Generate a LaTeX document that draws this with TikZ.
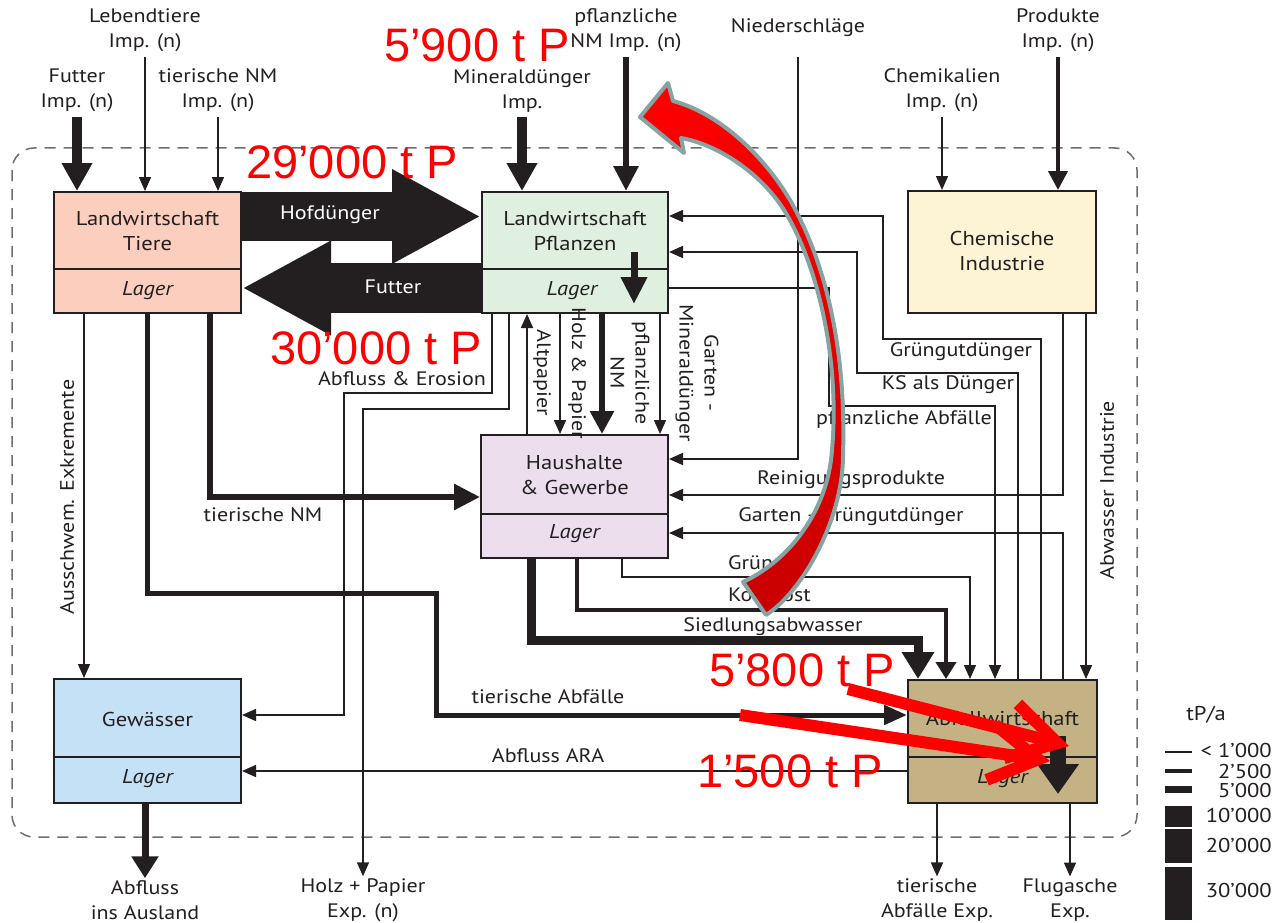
\documentclass[tikz,border=0pt]{standalone}
\usepackage{fontspec}
\setmainfont[FakeStretch=1.13]{PT Sans}
\newfontfamily\redfont{Liberation Sans}
\usetikzlibrary{arrows.meta}
\definecolor{ink}{RGB}{35,31,32}
\definecolor{ltfill}{RGB}{251,206,190}
\definecolor{lpfill}{RGB}{223,240,224}
\definecolor{cifill}{RGB}{253,244,214}
\definecolor{hgfill}{RGB}{237,222,238}
\definecolor{gwfill}{RGB}{196,225,245}
\definecolor{awfill}{RGB}{196,178,133}
\definecolor{framegray}{RGB}{110,110,110}
\definecolor{hilite}{RGB}{255,0,0}
\definecolor{hidark}{RGB}{200,0,0}
\definecolor{rim}{RGB}{135,163,163}

\tikzset{
  sector/.style={draw=ink, line width=2pt, inner sep=0pt},
  title/.style={font=\fontsize{20}{25}\selectfont, align=center, inner sep=1pt, text=ink},
  store/.style={font=\fontsize{20}{25}\selectfont\itshape, inner sep=1pt, text=ink},
  lab/.style={font=\fontsize{19.5}{25}\selectfont, align=center, inner sep=2pt, text=ink},
  l1/.style={draw=ink, line width=1.5pt},
  f1/.style={draw=ink, line width=1.5pt, -{Triangle[length=14pt,width=12pt]}},
  f2/.style={draw=ink, line width=4pt, -{Triangle[length=19pt,width=19pt]}},
  f3/.style={draw=ink, line width=6pt, -{Triangle[length=25pt,width=24pt]}},
  f4/.style={draw=ink, line width=9pt, -{Triangle[length=27pt,width=31pt]}},
  fimp/.style={draw=ink, line width=9.5pt, -{Triangle[length=28pt,width=29pt]}},
  big/.style={draw=ink, line width=49pt, -{Triangle[length=89pt,width=88pt]}},
  redtext/.style={font=\redfont\fontsize{47}{50}\selectfont, text=hilite, inner sep=0pt},
  redarrow/.style={draw=hilite, line width=12pt, -{Straight Barb[length=48pt,width=56pt]}},
}

\begin{document}
\begin{tikzpicture}[x=1pt,y=-1pt]
\useasboundingbox (0,0) rectangle (1274,923);
\fill[white] (0,0) rectangle (1274,923);

% system boundary
\draw[framegray, line width=1.5pt, dash pattern=on 11pt off 8pt, rounded corners=22pt]
  (12,148) rectangle (1137,837);

% sectors
\node[sector, fill=ltfill, minimum width=187pt, minimum height=121pt] (lt) at (147.5,252.5) {};
\node[sector, fill=lpfill, minimum width=186pt, minimum height=121pt] (lp) at (575,252.5) {};
\node[sector, fill=cifill, minimum width=188pt, minimum height=122pt] (ci) at (1002,252) {};
\node[sector, fill=hgfill, minimum width=187pt, minimum height=123pt] (hg) at (574.5,496.5) {};
\node[sector, fill=gwfill, minimum width=187pt, minimum height=124pt] (gw) at (147.5,741) {};
\node[sector, fill=awfill, minimum width=189pt, minimum height=123pt] (aw) at (1002.5,741.5) {};

% storage dividers
\draw[ink, line width=2pt] (lt.west |- 0,269) -- (lt.east |- 0,269);
\draw[ink, line width=2pt] (lp.west |- 0,269) -- (lp.east |- 0,269);
\draw[ink, line width=2pt] (hg.west |- 0,514) -- (hg.east |- 0,514);
\draw[ink, line width=2pt] (gw.west |- 0,757) -- (gw.east |- 0,757);
\draw[ink, line width=2pt] (aw.west |- 0,757) -- (aw.east |- 0,757);

% sector titles
\node[title] (ltT) at (147.5,231) {Landwirtschaft\\Tiere};
\node[store] (ltS) at (147.5,291) {Lager};
\node[title] (lpT) at (575,231) {Landwirtschaft\\Pflanzen};
\node[store] (lpS) at (572,291) {Lager};
\node[title] (ciT) at (1002,251) {Chemische\\Industrie};
\node[title] (hgT) at (574.5,475.5) {Haushalte\\\& Gewerbe};
\node[store] (hgS) at (574.5,534) {Lager};
\node[title] (gwT) at (147.5,719) {Gewässer};
\node[store] (gwS) at (147.5,779) {Lager};
\node[title] (awT) at (1002.5,719) {Abfallwirtschaft};
\node[store] (awS) at (1002.5,779) {Lager};

% imports
\node[lab] (tFut) at (77,90.5) {Futter\\Imp. (n)};
\node[lab] (tLeb) at (145,30.5) {Lebendtiere\\Imp. (n)};
\node[lab] (tTNM) at (218,90.5) {tierische NM\\Imp. (n)};
\node[lab] (tMin) at (522,91.5) {Mineraldünger\\Imp.};
\node[lab] (tPNM) at (626,30.5) {pflanzliche\\NM Imp. (n)};
\node[lab] (tNied) at (798,28) {Niederschläge};
\node[lab] (tChem) at (942,90.5) {Chemikalien\\Imp. (n)};
\node[lab] (tProd) at (1058,30.5) {Produkte\\Imp. (n)};

\draw[fimp] (tFut.south |- 0,117) -- (lt.north -| tFut.south);
\draw[f1] (tLeb.south |- 0,57) -- (lt.north -| tLeb.south);
\draw[f1] (tTNM.south |- 0,117) -- (lt.north -| tTNM.south);
\draw[fimp] (tMin.south |- 0,117) -- (lp.north -| tMin.south);
\draw[f3] (tPNM.south |- 0,57) -- (lp.north -| tPNM.south);
\draw[f1] (tNied.south |- 0,57) |- (hg.east |- 0,459);
\draw[f1] (tChem.south |- 0,117) -- (ci.north -| tChem.south);
\draw[f2] (tProd.south |- 0,57) -- (ci.north -| tProd.south);

% exchange between the two farming sectors
\draw[big] (lt.east |- 0,216.5) -- (lp.west |- 0,216.5);
\draw[big, line width=50pt] (lp.west |- 0,288) -- (lt.east |- 0,288);
\node[lab, text=white] (lHof) at (330,215) {Hofdünger};
\node[lab, text=white] (lFut) at (393,287) {Futter};

% flows out of Landwirtschaft Tiere
\draw[f1] (lt.south -| 84,0) -- (gw.north -| 84,0);
\draw[draw=ink, line width=5pt, -{Triangle[length=23pt,width=19pt]}]
  (lt.south -| 147,0) -- (147,593) -| (436,715) -- (aw.west |- 0,715);
\draw[draw=ink, line width=6pt, -{Triangle[length=26pt,width=25pt]}]
  (lt.south -| 210,0) |- (hg.west |- 0,497);

% flows out of Landwirtschaft Pflanzen
\draw[f1] (lp.south -| 492,0) |- (344,393) |- (gw.east |- 0,715);
\node[lab] (tHPE) at (363,900) {Holz + Papier\\Exp. (n)};
\draw[f1] (lp.south -| 509,0) |- (tHPE.north |- 0,409) -- (tHPE.north);
\draw[f1] (hg.north -| 527,0) -- (lp.south -| 527,0);
\draw[f1] (lp.south -| 560,0) -- (hg.north -| 560,0);
\draw[draw=ink, line width=6pt, -{Triangle[length=23pt,width=23pt]}]
  (lp.south -| 602,0) -- (hg.north -| 602,0);
\draw[f1] (lp.south -| 660,0) -- (hg.north -| 660,0);
\draw[f1] (lp.east |- 0,288) -| (829,406) -| (aw.north -| 995,0);

% internal stock changes
\coordinate (lpIn) at (634,252);
\draw[draw=ink, line width=7pt, -{Triangle[length=27pt,width=25pt]}] (lpIn) -- (lpIn |- 0,304);
\coordinate (awIn) at (1058,736);
\draw[draw=ink, line width=16pt, -{Triangle[length=30pt,width=40pt]}] (awIn) -- (awIn |- 0,794);

% returns from waste management and industry
\draw[f1] (aw.north -| 1041,0) |- (883,339) |- (lp.east |- 0,216);
\draw[f1] (aw.north -| 1018,0) |- (857,373) |- (lp.east |- 0,252);
\draw[f1] (ci.south -| 1063,0) |- (hg.east |- 0,495);
\draw[f1] (aw.north -| 1063,0) |- (hg.east |- 0,533);
\draw[f1] (ci.south -| 1086,0) -- (aw.north -| 1086,0);

% flows out of Haushalte & Gewerbe
\draw[f1] (hg.south -| 622,0) -- (622,577) -| (aw.north -| 970,0);
\draw[draw=ink, line width=4pt, -{Triangle[length=17pt,width=20pt]}]
  (hg.south -| 577,0) -- (577,610) -| (aw.north -| 946,0);
\draw[f4] (hg.south -| 531,0) -- (531,640) -| (aw.north -| 918,0);

% waters and exports
\draw[f1] (aw.west |- 0,771) -- (gw.east |- 0,771);
\node[lab] (tAusl) at (145,900) {Abfluss\\ins Ausland};
\node[lab] (tTAE) at (937,900) {tierische\\Abfälle Exp.};
\node[lab] (tFlug) at (1070,900) {Flugasche\\Exp.};
\draw[draw=ink, line width=7pt, -{Triangle[length=22pt,width=26pt]}] (gw.south -| tAusl.north) -- (tAusl.north);
\draw[f1] (aw.south -| tTAE.north) -- (tTAE.north);
\draw[f1] (aw.south -| tFlug.north) -- (tFlug.north);

% flow labels
\node[lab] (lAbE) at (402,379) {Abfluss \& Erosion};
\node[lab, rotate=90] (lAus) at (67,497) {Ausschwem. Exkremente};
\node[lab] (lTNM) at (263,515) {tierische NM};
\node[lab, rotate=-90] (lAlt) at (542,373) {Altpapier};
\node[lab, rotate=-90] (lHP) at (577,373) {Holz \& Papier};
\node[lab, rotate=-90] (lPNM) at (630,373) {pflanzliche\\NM};
\node[lab, rotate=-90] (lGM) at (697,373) {Garten -\\Mineraldünger};
\node[lab] (lGd) at (961,352) {Grüngutdünger};
\node[lab] (lKS) at (948,385) {KS als Dünger};
\node[lab] (lPA) at (904,420) {pflanzliche Abfälle};
\node[lab] (lRein) at (851,480) {Reinigungsprodukte};
\node[lab] (lGG) at (851,517) {Garten - Grüngutdünger};
\node[lab, anchor=west] (lGr) at (726,565) {Grüngut};
\node[lab, anchor=west] (lKo) at (726,597) {Kompost};
\node[lab] (lSied) at (773,627) {Siedlungsabwasser};
\node[lab] (lTA) at (548,697) {tierische Abfälle};
\node[lab] (lARA) at (548,756) {Abfluss ARA};
\node[lab, rotate=90] (lAbw) at (1107,490) {Abwasser Industrie};

% legend
\node[lab, font=\fontsize{20}{24}\selectfont] (legT) at (1206,715) {tP/a};
\draw[ink, line width=1.5pt] (1165,752) -- (1192,752);
\draw[ink, line width=4pt] (1165,771) -- (1192,771);
\draw[ink, line width=7pt] (1165,789) -- (1192,789);
\fill[ink] (1165,806) rectangle (1192,827);
\fill[ink] (1165,829) rectangle (1192,863);
\fill[ink] (1165,867) rectangle (1192,920);
\node[lab, anchor=east, font=\fontsize{20}{24}\selectfont] (leg1) at (1274,750) {< 1’000};
\node[lab, anchor=east, font=\fontsize{20}{24}\selectfont] (leg2) at (1274,771) {2’500};
\node[lab, anchor=east, font=\fontsize{20}{24}\selectfont] (leg3) at (1274,790) {5’000};
\node[lab, anchor=east, font=\fontsize{20}{24}\selectfont] (leg4) at (1274,815) {10’000};
\node[lab, anchor=east, font=\fontsize{20}{24}\selectfont] (leg5) at (1274,845) {20’000};
\node[lab, anchor=east, font=\fontsize{20}{24}\selectfont] (leg6) at (1274,890) {30’000};

% highlighted loop: curved arrow
\path[draw=rim, line width=4pt, line join=round, top color=hilite, bottom color=hidark]
  (766,615) .. controls (802,592) and (843,520) .. (843,455)
  .. controls (846,360) and (830,270) .. (790,200)
  .. controls (760,150) and (715,112) .. (673,101)
  -- (668,83) -- (640,117) -- (684,153) -- (681,138)
  .. controls (720,145) and (762,175) .. (784,210)
  .. controls (818,265) and (840,360) .. (832,450)
  .. controls (828,510) and (790,560) .. (743,582)
  -- cycle;

% highlighted quantities
\node[redtext] (r29) at (352,162) {29’000 t P};
\node[redtext] (r59) at (477,45) {5’900 t P};
\node[redtext] (r30) at (376,348) {30’000 t P};
\node[redtext] (r58) at (802,670) {5’800 t P};
\node[redtext] (r15) at (790,771) {1’500 t P};

\coordinate (ra1s) at (848,689);
\coordinate (ra1e) at (1069,746);
\coordinate (ra2s) at (740,715);
\coordinate (ra2e) at (1050,761);
\draw[redarrow] (ra1s) -- (ra1e);
\draw[redarrow] (ra2s) -- (ra2e);
\end{tikzpicture}
\end{document}
